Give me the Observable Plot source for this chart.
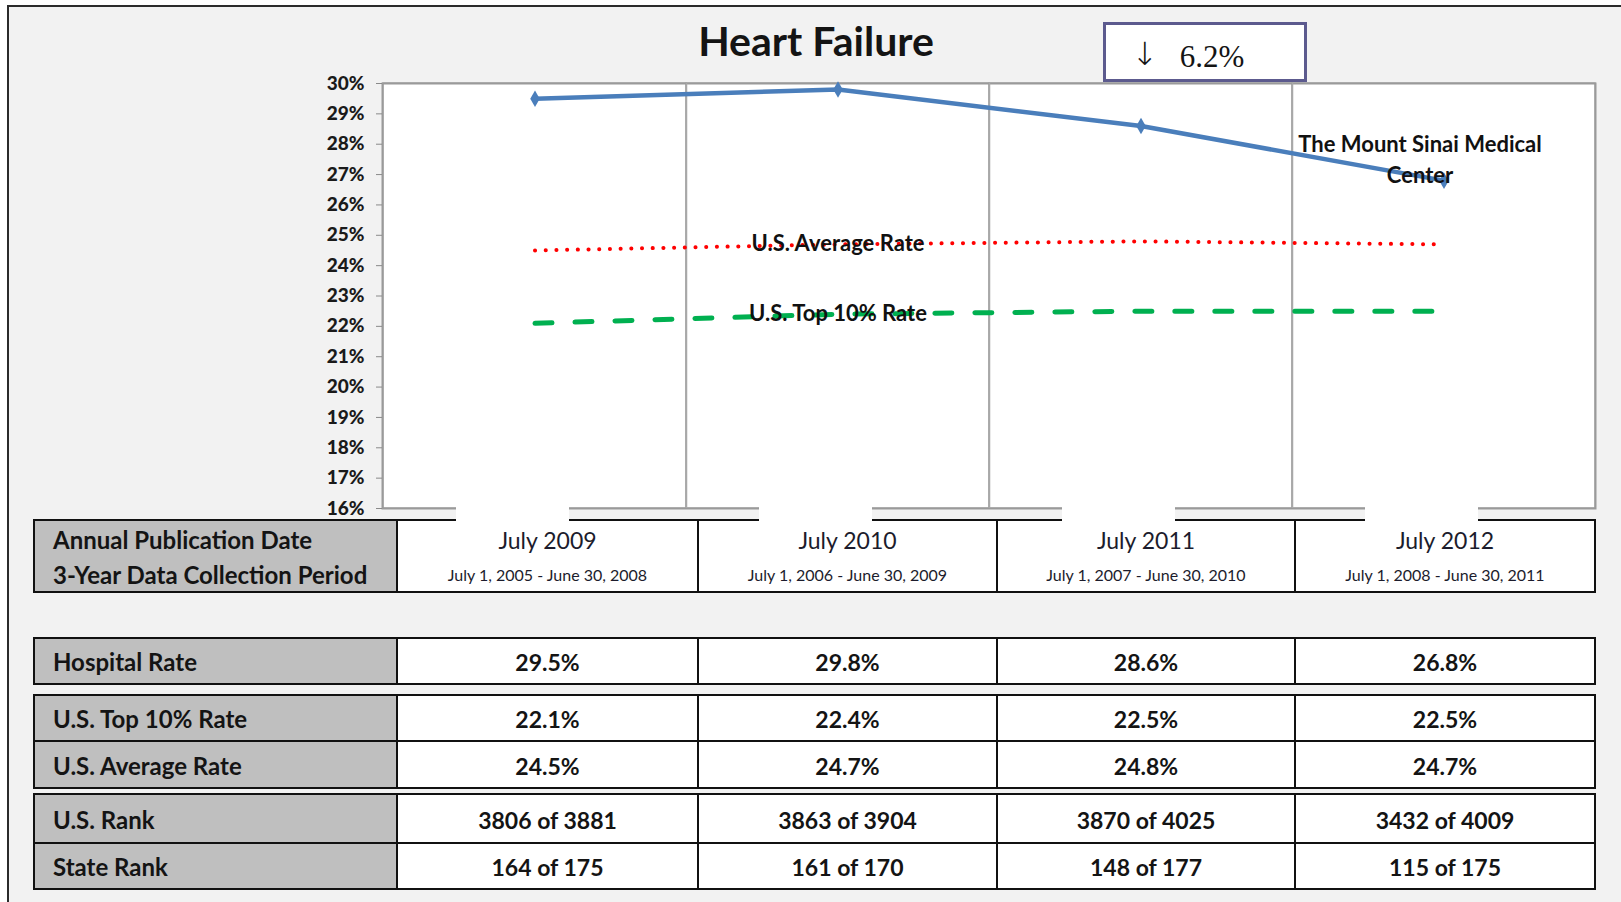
<!DOCTYPE html>
<html>
<head>
<meta charset="utf-8">
<script src="https://cdn.jsdelivr.net/npm/d3@7"></script>
<script src="https://cdn.jsdelivr.net/npm/@observablehq/plot@0.6"></script>
<style>
  html, body { margin: 0; padding: 0; background: #ffffff; }
  #page { position: relative; width: 1621px; height: 902px; overflow: hidden; font-family: Lato, "Open Sans", sans-serif; }
  #panel { position: absolute; left: 7px; top: 5px; right: -10px; bottom: -10px; background: #f2f2f2;
           border-left: 2px solid #2b2b2b; border-top: 2px solid #2b2b2b; }
  .t { position: absolute; white-space: nowrap; line-height: 1; color: #141414; }
  .c { transform: translate(-50%, -50%); }
  .l { transform: translate(0, -50%); }
  .cell { position: absolute; box-sizing: border-box; border: 2px solid #111; }
  #chart { position: absolute; left: 0; top: 0; z-index: 2; }
  #tables { position: absolute; left: 0; top: 0; z-index: 1; }
  #chart svg g[aria-label="y-axis tick label"],
  #chart svg g[aria-label="y-axis tick label"] text { font-weight: 900 !important; }
</style>
</head>
<body>
<div id="page">
  <div id="panel"></div>
  <div id="tables"></div>
  <div id="chart"></div>
</div>
<script>
// ---------------- data ----------------
const chartTitle = "Heart Failure";
const changeArrow = "\u2193";
const changeText = "6.2%";
const categories = ["July 2009", "July 2010", "July 2011", "July 2012"];
const periods = ["July 1, 2005 - June 30, 2008", "July 1, 2006 - June 30, 2009",
                 "July 1, 2007 - June 30, 2010", "July 1, 2008 - June 30, 2011"];
const hospitalRate = [29.5, 29.8, 28.6, 26.8];
const top10Rate = [22.1, 22.4, 22.5, 22.5];
const avgRate = [24.5, 24.7, 24.8, 24.7];
const usRank = ["3806 of 3881", "3863 of 3904", "3870 of 4025", "3432 of 4009"];
const stateRank = ["164 of 175", "161 of 170", "148 of 177", "115 of 175"];
const yTicks = [16, 17, 18, 19, 20, 21, 22, 23, 24, 25, 26, 27, 28, 29, 30];
const hospitalLabel = "The Mount Sinai Medical\nCenter";
const avgLabel = "U.S. Average Rate";
const top10Label = "U.S. Top 10% Rate";
const headerLabels = ["Annual Publication Date", "3-Year Data Collection Period"];
const rowLabels = ["Hospital Rate", "U.S. Top 10% Rate", "U.S. Average Rate", "U.S. Rank", "State Rank"];

// ---------------- chart ----------------
const toRows = (vals) => categories.map((c, i) => ({cat: c, v: vals[i]}));
const hospitalData = toRows(hospitalRate);
const avgData = toRows(avgRate);
const top10Data = toRows(top10Rate);

const chart = Plot.plot({
  width: 1621,
  height: 530,
  marginLeft: 382,
  marginRight: 26,
  marginTop: 83,
  marginBottom: 22,
  style: {background: "transparent", fontFamily: "Lato, sans-serif", overflow: "visible"},
  x: {type: "band", domain: categories, padding: 0, axis: null},
  y: {domain: [16, 30], axis: null},
  marks: [
    Plot.cell(categories, {x: d => d, fill: "white", stroke: "#a8a8a8", strokeWidth: 1.5}),
    Plot.frame({stroke: "#9a9a9a", strokeWidth: 2}),
    Plot.axisY(yTicks, {
      label: null,
      tickFormat: d => `${d}%`, tickSize: 6, tickPadding: 12,
      stroke: "#8a8a8a", fill: "#1a1a1a", fontSize: 19, fontWeight: "900"
    }),
    Plot.tickX(categories.slice(1), {x: d => d, dx: -151.5, y1: 15.85, y2: 16, stroke: "#a8a8a8", strokeWidth: 1.5}),
    Plot.line(avgData, {x: "cat", y: "v", stroke: "#ff0000", strokeWidth: 4,
      strokeDasharray: "0.1 10.6", strokeLinecap: "round"}),
    Plot.line(top10Data, {x: "cat", y: "v", stroke: "#00b050", strokeWidth: 5,
      strokeDasharray: "17 23", strokeLinecap: "round"}),
    Plot.line(hospitalData, {x: "cat", y: "v", stroke: "#4a7ebb", strokeWidth: 4.5}),
    Plot.dot(hospitalData, {x: "cat", y: "v", symbol: "diamond", r: 5, fill: "#4a7ebb"}),
    Plot.text([{cat: categories[1], v: avgRate[1], label: avgLabel}],
      {x: "cat", y: "v", text: "label", fontSize: 22, fontWeight: "bold", fill: "#111"}),
    Plot.text([{cat: categories[1], v: top10Rate[1], label: top10Label}],
      {x: "cat", y: "v", text: "label", fontSize: 22, fontWeight: "bold", fill: "#111"}),
    Plot.text([{cat: categories[3], v: hospitalRate[3], label: hospitalLabel}],
      {x: "cat", y: "v", text: "label", fontSize: 22, fontWeight: "bold", fill: "#111",
       dx: -24, dy: -23, lineHeight: 1.4}),
    Plot.barY(categories, {x: d => d, y1: 15.5, y2: 16.1, fill: "white",
      insetLeft: 73, insetRight: 117})
  ]
});
document.getElementById("chart").appendChild(chart);

// ---------------- title & change box ----------------
const page = document.getElementById("page");
function addText(parent, txt, x, y, css, cls) {
  const d = document.createElement("div");
  d.className = "t " + (cls || "c");
  d.textContent = txt;
  d.style.left = x + "px";
  d.style.top = y + "px";
  Object.assign(d.style, css || {});
  parent.appendChild(d);
  return d;
}
addText(page, chartTitle, 816, 40, {fontSize: "41px", fontWeight: "bold", zIndex: 3});

const changeBox = document.createElement("div");
Object.assign(changeBox.style, {position: "absolute", left: "1103px", top: "22px", width: "204px",
  height: "60px", boxSizing: "border-box", border: "3px solid #5c5a8e", background: "#fff", zIndex: 3});
page.appendChild(changeBox);
addText(page, changeArrow, 1145, 54, {fontSize: "32px", fontFamily: "'DejaVu Sans', 'Liberation Serif', serif", fontWeight: "200", zIndex: 4});
addText(page, changeText, 1212, 56, {fontSize: "31px", fontFamily: "'Liberation Serif', 'DejaVu Serif', serif", zIndex: 4});

// ---------------- tables ----------------
const tables = document.getElementById("tables");
const colX = [34, 397, 698, 997, 1295, 1595];
function cellBox(x0, y0, x1, y1, bg) {
  const d = document.createElement("div");
  d.className = "cell";
  Object.assign(d.style, {left: (x0 - 1) + "px", top: (y0 - 1) + "px",
    width: (x1 - x0 + 2) + "px", height: (y1 - y0 + 2) + "px", background: bg});
  tables.appendChild(d);
}
function row(y0, y1) {
  cellBox(colX[0], y0, colX[1], y1, "#bfbfbf");
  for (let i = 1; i < colX.length - 1; i++) cellBox(colX[i], y0, colX[i + 1], y1, "#ffffff");
}
const colCenter = i => (colX[i + 1] + colX[i + 2]) / 2;
const labelX = 53;

// header
row(520, 592);
addText(tables, headerLabels[0], labelX, 540, {fontSize: "24px", fontWeight: "bold"}, "l");
addText(tables, headerLabels[1], labelX, 575, {fontSize: "24px", fontWeight: "bold"}, "l");
categories.forEach((c, i) => {
  addText(tables, c, colCenter(i), 540, {fontSize: "23px", color: "#1c1c2c"});
  addText(tables, periods[i], colCenter(i), 575, {fontSize: "16px", color: "#1c1c2c"});
});

const fmt = v => v.toFixed(1) + "%";
const bodyRows = [
  {y0: 638, y1: 684, label: rowLabels[0], vals: hospitalRate.map(fmt)},
  {y0: 695, y1: 741, label: rowLabels[1], vals: top10Rate.map(fmt)},
  {y0: 741, y1: 788, label: rowLabels[2], vals: avgRate.map(fmt)},
  {y0: 794, y1: 843, label: rowLabels[3], vals: usRank},
  {y0: 843, y1: 889, label: rowLabels[4], vals: stateRank}
];
bodyRows.forEach(r => {
  row(r.y0, r.y1);
  const cy = (r.y0 + r.y1) / 2 + 1;
  addText(tables, r.label, labelX, cy, {fontSize: "24px", fontWeight: "bold"}, "l");
  r.vals.forEach((v, i) => addText(tables, v, colCenter(i), cy, {fontSize: "23px", fontWeight: "bold"}));
});
</script>
</body>
</html>
